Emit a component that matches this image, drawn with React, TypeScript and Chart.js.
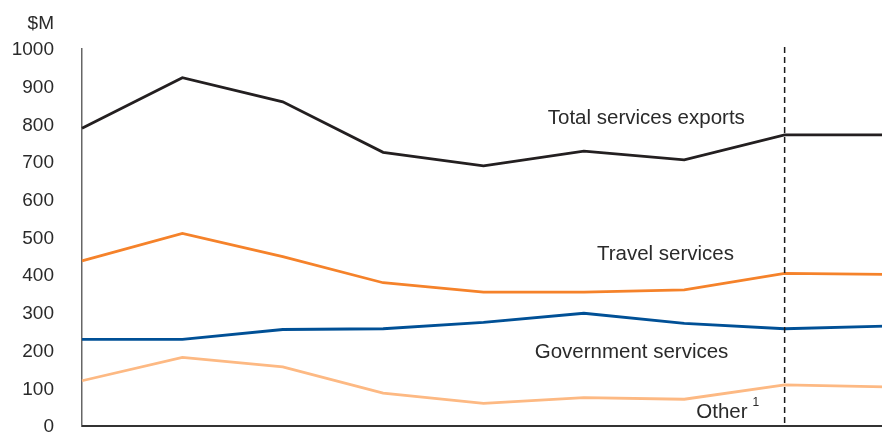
import React, { useEffect, useRef } from "react";
import { Chart, registerables } from "chart.js";

Chart.register(...registerables);

const categories = ["1", "2", "3", "4", "5", "6", "7", "8", "9"];
const totalExports = [790, 924, 860, 726, 690, 729, 706, 772, 772];
const travel = [438, 511, 449, 380, 355, 355, 361, 405, 402];
const government = [230, 230, 256, 258, 275, 299, 272, 258, 265];
const other = [120, 182, 157, 87, 60, 75, 71, 109, 104];
const yTicks = [0, 100, 200, 300, 400, 500, 600, 700, 800, 900, 1000];
const dividerIndex = 7;
const seriesLabels: [string, number, number][] = [
  ["Total services exports", 4.64, 817],
  ["Travel services", 5.13, 454],
  ["Government services", 4.51, 196],
  ["Other", 6.12, 37],
];

const FONT = "'Liberation Sans', Arial, sans-serif";

const overlay = {
  id: "overlay",
  afterDatasetsDraw(chart: any) {
    const { ctx, scales, chartArea } = chart;
    const x = scales.x;
    const y = scales.y;
    ctx.save();
    // bottom axis line
    ctx.strokeStyle = "#333";
    ctx.lineWidth = 2;
    ctx.beginPath();
    ctx.moveTo(chartArea.left, chartArea.bottom);
    ctx.lineTo(chartArea.right + 10, chartArea.bottom);
    ctx.stroke();
    // dashed divider
    const dx = x.getPixelForValue(dividerIndex);
    ctx.strokeStyle = "#1a1a1a";
    ctx.lineWidth = 1.5;
    ctx.setLineDash([6, 4]);
    ctx.beginPath();
    ctx.moveTo(dx, chartArea.top - 2);
    ctx.lineTo(dx, chartArea.bottom);
    ctx.stroke();
    ctx.setLineDash([]);
    // y tick labels
    ctx.fillStyle = "#2a2a2a";
    ctx.font = `19px ${FONT}`;
    ctx.textAlign = "right";
    ctx.textBaseline = "middle";
    for (const v of yTicks) {
      ctx.fillText(String(v), chartArea.left - 28, y.getPixelForValue(v) + 1);
    }
    ctx.fillText("$M", chartArea.left - 28, 24);
    // series labels
    ctx.font = `20.5px ${FONT}`;
    ctx.textAlign = "left";
    for (const [t, xi, yv] of seriesLabels) {
      const px = x.getPixelForValue(xi);
      const py = y.getPixelForValue(yv);
      ctx.fillText(t, px, py);
      if (t === "Other") {
        const w = ctx.measureText(t).width;
        ctx.font = `12px ${FONT}`;
        ctx.fillText("1", px + w + 5, py - 9);
        ctx.font = `20.5px ${FONT}`;
      }
    }
    ctx.restore();
  },
};

export default function App() {
  const ref = useRef<HTMLCanvasElement>(null);
  useEffect(() => {
    if (!ref.current) return;
    const mk = (label: string, data: number[], color: string) => ({
      label,
      data,
      borderColor: color,
      backgroundColor: color,
      borderWidth: 2.8,
      pointRadius: 0,
      tension: 0,
      clip: false as any,
    });
    const chart = new Chart(ref.current, {
      type: "line",
      data: {
        labels: categories,
        datasets: [
          mk("Total services exports", totalExports, "#231f20"),
          mk("Travel services", travel, "#f5822a"),
          mk("Government services", government, "#005096"),
          mk("Other", other, "#fdb983"),
        ],
      },
      options: {
        animation: false,
        responsive: false,
        maintainAspectRatio: false,
        layout: { padding: { top: 49, bottom: 6, left: 0, right: 7 } },
        plugins: { legend: { display: false }, tooltip: { enabled: false } },
        scales: {
          x: {
            display: false,
            offset: false,
          },
          y: {
            min: 0,
            max: 1000,
            afterFit(s: any) {
              s.width = 82;
            },
            grid: { display: false, drawTicks: false },
            border: { display: true, color: "#666", width: 1.5 },
            ticks: { display: false },
          },
        },
      },
      plugins: [overlay],
    });
    return () => chart.destroy();
  }, []);
  return (
    <div style={{ position: "fixed", left: 0, top: 0, width: 882, height: 432, overflow: "hidden", background: "#fff" }}>
      <canvas ref={ref} width={892} height={432} style={{ display: "block" }} />
    </div>
  );
}
